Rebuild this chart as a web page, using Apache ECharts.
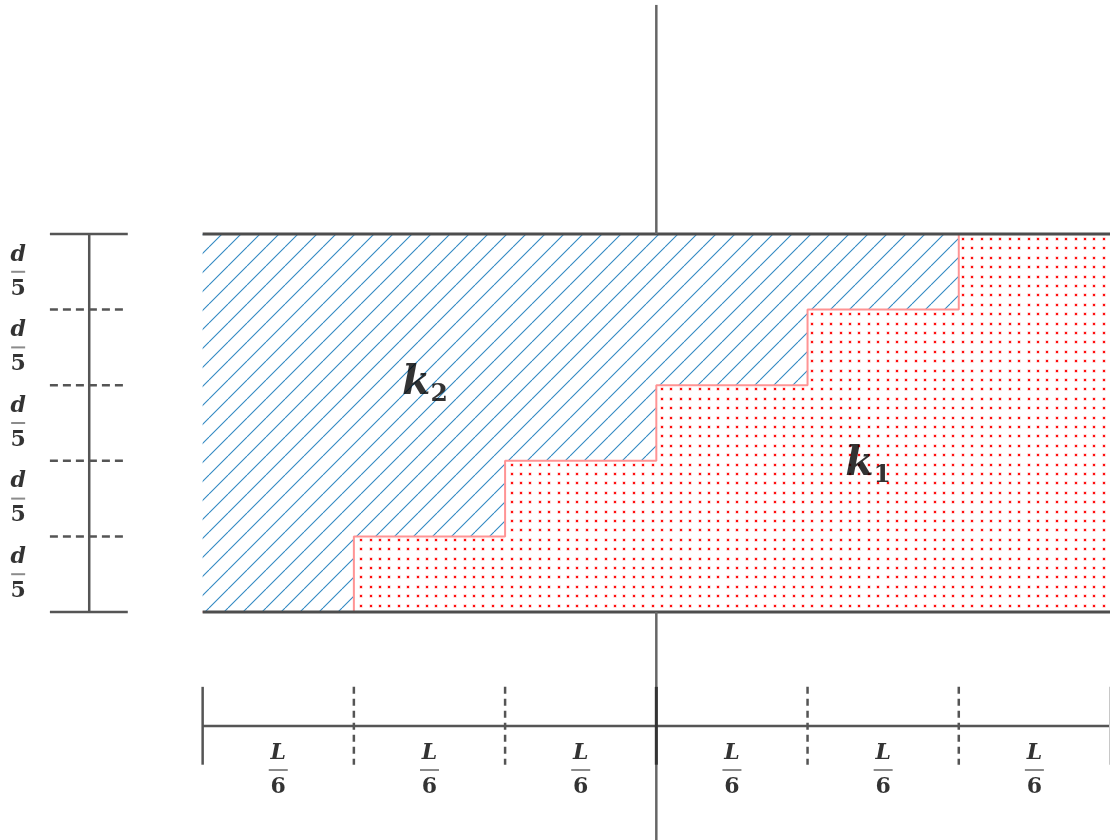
<!DOCTYPE html>
<html>
<head>
<meta charset="utf-8">
<script src="https://cdn.jsdelivr.net/npm/echarts@6/dist/echarts.min.js"></script>
<style>html,body{margin:0;padding:0;background:#fff;}#chart{width:1110px;height:840px;}</style>
</head>
<body>
<div id="chart"></div>
<script>
// ---- data ----
const xSegments = 6;                       // width split into L/6 columns
const ySegments = 5;                       // height split into d/5 rows
const k1StepHeights = [0, 1, 2, 3, 4, 5];  // height of k1 region (in d/5 units) per L/6 column
const xTickLabels = ['L/6', 'L/6', 'L/6', 'L/6', 'L/6', 'L/6'];
const yTickLabels = ['d/5', 'd/5', 'd/5', 'd/5', 'd/5'];
const xTickKinds = ['solid', 'dashed', 'dashed', 'solid', 'dashed', 'dashed', 'solid'];
const yTickKinds = ['solid', 'dashed', 'dashed', 'dashed', 'dashed', 'solid'];
const regionNames = ['k2', 'k1'];
const regionLabelX = [1.47, 4.40];
const regionLabelY = [3.0, 1.93];
const centerLineX = 3;

// ---- layout constants (data units outside the body) ----
const X_MIN = -1.34;
const LEFT_SCALE_X = -0.75, LEFT_TICK_X0 = -1.01, LEFT_TICK_X1 = -0.495, LEFT_LABEL_X = -1.22;
const BOT_SCALE_Y = -1.508, BOT_TICK_Y0 = -0.99, BOT_TICK_Y1 = -2.02, BOT_LABEL_Y = -2.09;
const CENTER_TOP = 8.03, CENTER_BOTTOM = -3.05;

// ---- patterns ----
function hatchPattern() {
  const s = 19, c = document.createElement('canvas');
  c.width = s; c.height = s;
  const g = c.getContext('2d');
  g.fillStyle = '#ffffff'; g.fillRect(0, 0, s, s);
  g.strokeStyle = '#2f88c2'; g.lineWidth = 1.1;
  for (let k = -1; k <= 1; k++) {
    g.beginPath(); g.moveTo(k * s, s); g.lineTo((k + 1) * s, 0); g.stroke();
  }
  return c;
}
function dotPattern() {
  const s = 47, c = document.createElement('canvas');
  c.width = s; c.height = s;
  const g = c.getContext('2d');
  g.fillStyle = '#ffffff'; g.fillRect(0, 0, s, s);
  const pos = [0, 9, 19, 28, 38];
  pos.forEach(px => pos.forEach(py => {
    g.fillStyle = '#ffb0b0'; g.fillRect(px + 2.5, py + 2.5, 3, 3);
    g.fillStyle = '#ff1010'; g.fillRect(px + 3, py + 3, 2, 2);
  }));
  return c;
}

const chart = echarts.init(document.getElementById('chart'), null, {renderer: 'canvas'});

function seg(points, color, width, type) {
  return {
    type: 'line', data: points, symbol: 'none', silent: true, clip: false, animation: false,
    lineStyle: {color: color, width: width, type: type || 'solid', cap: 'butt'}, z: 5
  };
}

const series = [];
// k2 hatched region (full body, k1 painted over it)
series.push({
  type: 'line', data: [[0, ySegments], [xSegments, ySegments]], symbol: 'none', silent: true,
  animation: false, lineStyle: {width: 0},
  areaStyle: {origin: 'start', opacity: 1, color: {image: hatchPattern(), repeat: 'repeat'}}, z: 1
});
// k1 dotted staircase region
const stepPts = [];
k1StepHeights.forEach((h, i) => { stepPts.push([i, h]); stepPts.push([i + 1, h]); });
series.push({
  type: 'line', data: stepPts, symbol: 'none', silent: true, animation: false,
  lineStyle: {color: '#ff9494', width: 2},
  areaStyle: {origin: 'start', opacity: 1, color: {image: dotPattern(), repeat: 'repeat'}}, z: 2
});
// body top & bottom borders
series.push(seg([[0, ySegments], [xSegments, ySegments]], '#4d4d4d', 3));
series.push(seg([[0, 0], [xSegments, 0]], '#4d4d4d', 3));
// center vertical line (outside body)
series.push(seg([[centerLineX, ySegments], [centerLineX, CENTER_TOP]], '#666666', 2.5));
series.push(seg([[centerLineX, 0], [centerLineX, CENTER_BOTTOM]], '#666666', 2.5));
// left scale
series.push(seg([[LEFT_SCALE_X, 0], [LEFT_SCALE_X, ySegments]], '#555555', 2.5));
yTickKinds.forEach((k, i) => {
  series.push(seg([[LEFT_TICK_X0, i], [LEFT_TICK_X1, i]], '#555555', 2.5, k === 'dashed' ? [8, 5] : 'solid'));
});
// bottom scale
series.push(seg([[0, BOT_SCALE_Y], [xSegments, BOT_SCALE_Y]], '#555555', 2.5));
xTickKinds.forEach((k, i) => {
  let col = '#555555', w = 2.5;
  if (i === centerLineX) { col = '#333333'; w = 3; }
  if (i === xSegments) { col = '#c8c8c8'; w = 2; }
  series.push(seg([[i, BOT_TICK_Y0], [i, BOT_TICK_Y1]], col, w, k === 'dashed' ? [7, 5] : 'solid'));
});

const fracFont = 'DejaVu Serif';
function fracRich(barW) {
  return {
    n: {fontFamily: fracFont, fontStyle: 'italic', fontWeight: 'bold', fontSize: 22, lineHeight: 22, color: '#000', align: 'center'},
    b: {width: barW, height: 2, fontSize: 1, lineHeight: 12, backgroundColor: '#6e6e6e', align: 'center'},
    m: {fontFamily: fracFont, fontWeight: 'bold', fontSize: 22, lineHeight: 22, color: '#000', align: 'center'}
  };
}
function labelSeries(data, rich) {
  return {
    type: 'scatter', data: data, symbolSize: 0, silent: true, clip: false, animation: false, z: 10,
    label: {
      show: true, position: 'inside', align: 'center', verticalAlign: 'middle',
      formatter: p => { const [num, den] = p.data[2].split('/'); return '{n|' + num + '}\n{b| }\n{m|' + den + '}'; },
      rich: rich
    }
  };
}
series.push(labelSeries(yTickLabels.map((t, i) => [LEFT_LABEL_X, i + 0.5, t]), fracRich(14)));
series.push(labelSeries(xTickLabels.map((t, i) => [i + 0.5, BOT_LABEL_Y, t]), fracRich(19)));
// region names
series.push({
  type: 'scatter', data: regionNames.map((n, i) => [regionLabelX[i], regionLabelY[i], n]),
  symbolSize: 0, silent: true, clip: false, animation: false, z: 10,
  label: {
    show: true, position: 'inside', align: 'center', verticalAlign: 'middle',
    formatter: p => '{k|' + p.data[2][0] + '}{s|' + p.data[2].slice(1) + '}',
    rich: {
      k: {fontFamily: fracFont, fontStyle: 'italic', fontWeight: 'bold', fontSize: 41, color: '#000', verticalAlign: 'top', lineHeight: 44},
      s: {fontFamily: fracFont, fontWeight: 'bold', fontSize: 25, color: '#000', verticalAlign: 'bottom', lineHeight: 44, padding: [18, 0, 0, 0]}
    }
  }
});

chart.setOption({
  animation: false,
  backgroundColor: '#ffffff',
  grid: {left: 0, top: 234, width: 1112, height: 378, containLabel: false},
  xAxis: {type: 'value', min: X_MIN, max: xSegments, show: false},
  yAxis: {type: 'value', min: 0, max: ySegments, show: false},
  series: series
});
</script>
</body>
</html>
